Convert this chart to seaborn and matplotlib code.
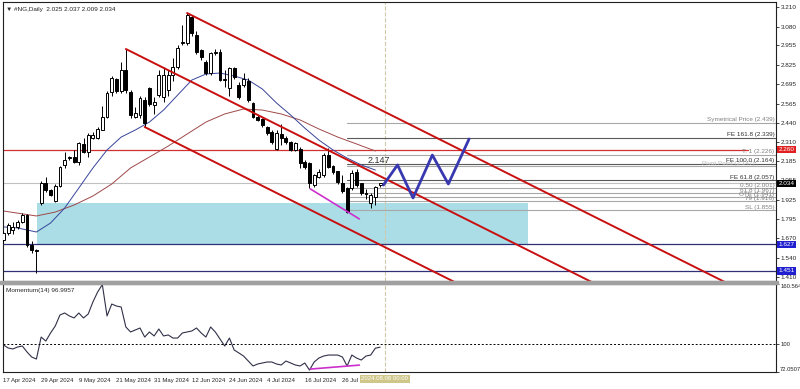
import numpy as np
import seaborn as sns
import matplotlib.pyplot as plt
import matplotlib.transforms as mtransforms
from matplotlib.patches import Rectangle

# daily candles, #NG (bar index 0 = 17 Apr 2024)
opens = [1.657, 1.703, 1.723, 1.743, 1.777, 1.823, 1.623, 1.590, 1.903, 2.037,
         1.990, 1.917, 2.017, 2.157, 2.203, 2.210, 2.177, 2.297, 2.243, 2.337,
         2.337, 2.390, 2.477, 2.643, 2.730, 2.650, 2.790, 2.643, 2.477, 2.490,
         2.590, 2.670, 2.557, 2.623, 2.610, 2.657, 2.757, 2.810, 2.970, 2.970,
         3.143, 3.023, 2.923, 2.843, 2.770, 2.903, 2.910, 2.723, 2.670, 2.803,
         2.690, 2.690, 2.720, 2.570, 2.477, 2.463, 2.410, 2.377, 2.263, 2.363,
         2.337, 2.310, 2.257, 2.263, 2.177, 2.170, 2.023, 2.077, 2.090, 2.223,
         2.150, 2.117, 2.037, 2.003, 2.003, 2.110, 2.037, 1.970, 1.903, 1.943,
         2.025]
highs = [1.720, 1.770, 1.777, 1.790, 1.840, 1.830, 1.650, 1.600, 2.050, 2.077,
         2.000, 2.030, 2.150, 2.243, 2.220, 2.257, 2.310, 2.337, 2.370, 2.380,
         2.410, 2.550, 2.650, 2.750, 2.740, 2.843, 2.930, 2.660, 2.543, 2.620,
         2.610, 2.680, 2.610, 2.790, 2.810, 2.790, 2.870, 2.960, 3.090, 3.170,
         3.160, 3.050, 2.930, 2.860, 2.910, 2.930, 2.930, 2.790, 2.810, 2.810,
         2.710, 2.770, 2.740, 2.580, 2.490, 2.470, 2.420, 2.390, 2.390, 2.430,
         2.350, 2.320, 2.310, 2.280, 2.190, 2.180, 2.100, 2.130, 2.240, 2.270,
         2.160, 2.120, 2.090, 2.010, 2.123, 2.130, 2.040, 2.000, 1.970, 2.020,
         2.037]
lows = [1.640, 1.690, 1.700, 1.730, 1.770, 1.610, 1.570, 1.437, 1.890, 1.980,
        1.950, 1.910, 2.010, 2.140, 2.190, 2.170, 2.157, 2.237, 2.210, 2.330,
        2.330, 2.390, 2.470, 2.620, 2.640, 2.640, 2.637, 2.470, 2.470, 2.470,
        2.410, 2.550, 2.500, 2.610, 2.580, 2.620, 2.720, 2.800, 2.960, 2.960,
        3.020, 2.900, 2.860, 2.760, 2.760, 2.890, 2.720, 2.680, 2.620, 2.730,
        2.600, 2.680, 2.580, 2.470, 2.450, 2.410, 2.360, 2.300, 2.260, 2.290,
        2.300, 2.250, 2.250, 2.140, 2.130, 2.003, 2.010, 2.070, 2.080, 2.140,
        2.100, 2.030, 1.970, 1.837, 1.990, 2.010, 1.960, 1.930, 1.870, 1.890,
        2.009]
closes = [1.703, 1.757, 1.743, 1.777, 1.823, 1.623, 1.590, 1.585, 2.037, 1.990,
          1.957, 2.017, 2.143, 2.190, 2.210, 2.177, 2.303, 2.243, 2.357, 2.357,
          2.397, 2.477, 2.637, 2.737, 2.650, 2.790, 2.657, 2.490, 2.503, 2.603,
          2.437, 2.563, 2.577, 2.757, 2.757, 2.757, 2.810, 2.937, 2.977, 3.157,
          3.037, 2.910, 2.877, 2.770, 2.903, 2.910, 2.723, 2.727, 2.803, 2.743,
          2.610, 2.730, 2.590, 2.477, 2.457, 2.423, 2.370, 2.310, 2.370, 2.337,
          2.310, 2.257, 2.303, 2.170, 2.143, 2.037, 2.090, 2.110, 2.223, 2.143,
          2.110, 2.043, 1.983, 1.843, 2.103, 2.023, 1.970, 1.963, 1.957, 2.010,
          2.034]

# moving averages (bar index, price)
ma_fast_idx = [0, 3, 7, 10, 13, 16, 19, 22, 25, 28, 31, 34, 37, 40, 43, 46, 49,
               52, 55, 58, 61, 64, 67, 70, 73, 76, 79]
ma_fast = [1.744, 1.737, 1.710, 1.770, 1.870, 2.003, 2.137, 2.257, 2.343, 2.390,
           2.443, 2.523, 2.623, 2.723, 2.763, 2.770, 2.750, 2.723, 2.663, 2.570,
           2.490, 2.403, 2.323, 2.257, 2.203, 2.157, 2.123]
ma_slow_idx = [0, 7, 11, 15, 19, 23, 27, 31, 35, 39, 43, 47, 51, 55, 59, 63, 67,
               71, 75, 79]
ma_slow = [1.850, 1.817, 1.843, 1.890, 1.950, 2.030, 2.137, 2.210, 2.283, 2.363,
           2.443, 2.497, 2.530, 2.523, 2.497, 2.457, 2.397, 2.343, 2.297, 2.250]

# momentum(14)
momentum = [99.2, 96.2, 95.2, 97.2, 98.2, 92.2, 87.1, 85.1, 107.2, 103.2,
            111.3, 118.3, 129.4, 131.4, 128.4, 126.4, 131.4, 126.4, 130.4, 142.5,
            152.5, 160.0, 128.4, 140.4, 138.4, 137.4, 117.3, 112.3, 114.3, 116.3,
            107.2, 112.3, 108.3, 115.3, 108.3, 109.3, 106.2, 106.2, 111.3, 112.3,
            113.3, 116.3, 111.3, 107.2, 117.3, 112.3, 105.2, 98.2, 106.2, 94.2,
            91.2, 88.1, 83.1, 78.1, 80.1, 81.1, 82.1, 82.1, 80.1, 79.1,
            83.1, 81.1, 79.1, 78.1, 81.1, 74.0, 82.1, 86.1, 88.1, 89.1,
            89.1, 89.1, 87.1, 78.1, 89.1, 86.1, 84.1, 88.1, 89.1, 96.0,
            97.0]

# descending channel: anchor bar, anchor price, slope per bar
channel_anchor_idx = [39, 26, 30]
channel_anchor_price = [3.170, 2.930, 2.410]
channel_slope = -0.0157

# fibo / target levels
fib_start = 73
fib_levels = [2.439, 2.339, 2.226, 2.164, 2.147, 2.057, 2.001, 1.967, 1.941, 1.916, 1.855]
fib_texts = ['Symetrical Price (2.439)', 'FE 161.8 (2.339)', 'T. 1 (2.226)',
             'FE 100.0 (2.164)', 'Pivot Point (2.147)', 'FE 61.8 (2.057)',
             '0.50 (2.001)', '61.8 (1.967)', 'OTE (1.941)', '79 (1.916)', 'SL (1.855)']
fib_dark = [False, True, False, True, False, True, False, False, False, False, False]

# projected zigzag path
zig_idx = [80.7, 83.7, 87.0, 91.1, 94.5, 98.9]
zig_price = [2.023, 2.157, 1.937, 2.223, 2.030, 2.330]

# divergence lines
div_idx = [65.2, 75.6]
div_price = [1.997, 1.797]
div_mom = [75.0, 79.0]

# demand zone
zone_left, zone_right = 7.2, 111.5
zone_low, zone_high = 1.627, 1.905

red_level = 2.260
blue_levels = [1.627, 1.451]
bid = 2.034
vline_idx = 81

price_ticks = [3.210, 3.080, 2.955, 2.825, 2.695, 2.565, 2.440, 2.310, 2.185,
               2.055, 1.925, 1.795, 1.670, 1.540, 1.410]
date_idx = [0, 8, 16, 24, 32, 40, 48, 56, 64, 72]
date_labels = ['17 Apr 2024', '29 Apr 2024', '9 May 2024', '21 May 2024',
               '31 May 2024', '12 Jun 2024', '24 Jun 2024', '4 Jul 2024',
               '16 Jul 2024', '26 Jul 2024']


def main():
    sns.set_style('white')
    plt.rcParams['font.family'] = ['Liberation Sans', 'DejaVu Sans']
    fs = 4.6

    fig = plt.figure(figsize=(8, 3.89), dpi=100)
    W, H = 800, 389
    ax = fig.add_axes([3 / W, 1 - 281 / H, 773 / W, 279 / H])
    ax2 = fig.add_axes([3 / W, 1 - 372 / H, 773 / W, 88 / H])
    fig.patches.append(Rectangle((0, 1 - 284 / H), 778 / W, 3 / H,
                                 transform=fig.transFigure, color='#a0a0a0'))

    xlim = (-0.1, 164.1)
    ax.set_xlim(*xlim)
    ax.set_ylim(1.3834, 3.2434)

    # zone
    ax.add_patch(Rectangle((zone_left, zone_low), zone_right - zone_left,
                           zone_high - zone_low, color='#aadde6', zorder=1, lw=0))

    # horizontal levels
    ax.axhline(bid, color='#c0c0c0', lw=0.8, zorder=1.5)
    ax.plot([xlim[0], 158.2], [red_level] * 2, color='#d03030', lw=0.9, zorder=2)
    for lv in blue_levels:
        ax.axhline(lv, color='#303078', lw=0.9, zorder=2)

    for lv, txt, dark in zip(fib_levels, fib_texts, fib_dark):
        col = '#5a5a5a' if dark else '#a8a8a8'
        ax.plot([fib_start, xlim[1]], [lv, lv], color=col, lw=0.8, zorder=2)
        if txt.startswith('Pivot'):
            ax.text(159.5, lv + 0.003, txt, fontsize=fs, color='#b8b8b8',
                    ha='right', va='bottom', zorder=2)
        else:
            ax.text(163.8, lv + 0.003, txt, fontsize=fs,
                    color='#303030' if dark else '#808080',
                    ha='right', va='bottom', zorder=3)
    ax.text(77.3, 2.158, '2.147', fontsize=6.5, color='#303030', va='bottom')

    # moving averages
    sns.lineplot(x=ma_slow_idx, y=ma_slow, ax=ax, color='#a04848', lw=0.7,
                 estimator=None, sort=False, zorder=2.5)
    sns.lineplot(x=ma_fast_idx, y=ma_fast, ax=ax, color='#38449a', lw=0.7,
                 estimator=None, sort=False, zorder=2.5)

    # candles
    o, h, l, c = (np.array(a) for a in (opens, highs, lows, closes))
    idx = np.arange(len(c))
    up = c >= o
    lo = np.minimum(o, c)
    bh = np.maximum(np.abs(c - o), 0.004)
    ax.vlines(idx, l, h, color='black', lw=0.7, zorder=3)
    ax.bar(idx[up], bh[up], bottom=lo[up], width=0.62, color='white',
           edgecolor='black', lw=0.7, zorder=4)
    ax.bar(idx[~up], bh[~up], bottom=lo[~up], width=0.62, color='black',
           edgecolor='black', lw=0.7, zorder=4)

    # channel
    for ai, ap in zip(channel_anchor_idx, channel_anchor_price):
        end = 200
        ax.plot([ai, end], [ap, ap + channel_slope * (end - ai)],
                color='#c81010', lw=1.4, zorder=5)

    ax.plot(zig_idx, zig_price, color='#3838b0', lw=2.0, zorder=6)
    ax.plot(div_idx, div_price, color='#cc30cc', lw=1.2, zorder=6)

    for a in (ax, ax2):
        a.axvline(vline_idx, color='#d0c8a8', ls='--', lw=0.8, zorder=1)

    # price axis
    ax.yaxis.tick_right()
    ax.set_yticks(price_ticks)
    ax.set_yticklabels([f'{p:.3f}' for p in price_ticks])
    ax.tick_params(axis='y', labelsize=fs, length=2, pad=1.5, width=0.6)
    ax.set_xticks([])
    trans = mtransforms.blended_transform_factory(ax.transAxes, ax.transData)
    for val, fc in [(red_level, '#e02020'), (bid, '#000000'),
                    (blue_levels[0], '#2020d0'), (blue_levels[1], '#2020d0')]:
        ax.text(1.003, val, f'{val:.3f}', transform=trans, fontsize=fs,
                color='white', va='center', ha='left',
                bbox=dict(boxstyle='square,pad=0.2', fc=fc, ec='none'))

    # momentum panel
    ax2.set_xlim(*xlim)
    ax2.set_ylim(72.0507, 160.564)
    sns.lineplot(x=idx, y=momentum, ax=ax2, color='#303048', lw=0.8,
                 estimator=None, sort=False)
    ax2.axhline(100, color='black', ls=(0, (2, 2)), lw=0.7)
    ax2.plot(div_idx, div_mom, color='#cc30cc', lw=1.2)
    ax2.yaxis.tick_right()
    ax2.set_yticks([160.564, 100, 72.0507])
    ax2.set_yticklabels(['160.564', '100', '72.0507'])
    ax2.tick_params(axis='y', labelsize=4.2, length=2, pad=1.0, width=0.6)
    yl = ax2.get_yticklabels()
    yl[0].set_va('top')
    yl[2].set_va('bottom')
    ax2.set_xticks(date_idx)
    ax2.set_xticklabels(date_labels, ha='left')
    ax2.tick_params(axis='x', labelsize=4.3, length=3, pad=1.5, width=0.6)
    ax2.text(0.004, 0.96, 'Momentum(14) 96.9957', transform=ax2.transAxes,
             fontsize=fs, va='top')
    trans2 = mtransforms.blended_transform_factory(ax2.transData, ax2.transAxes)
    ax2.text(vline_idx, -0.05, '2024.08.08 00:00', transform=trans2,
             fontsize=4.3, color='white', ha='center', va='top',
             bbox=dict(boxstyle='square,pad=0.25', fc='#cfc68a', ec='none'))

    for a in (ax, ax2):
        for s in a.spines.values():
            s.set_color('#202020')
            s.set_linewidth(0.8)
        a.set_xlabel('')
        a.set_ylabel('')

    fig.text(6 / W, 1 - 9 / H, '\u25bc #NG,Daily  2.025 2.037 2.009 2.034',
             fontsize=fs, va='center')

    plt.savefig('out.png', dpi=100)


if __name__ == '__main__':
    main()
